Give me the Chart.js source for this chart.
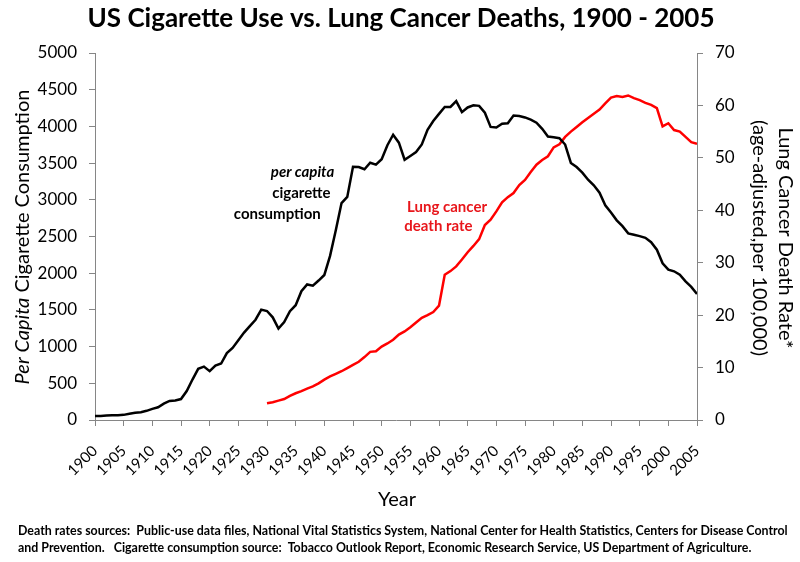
<!DOCTYPE html>
<html lang="en">
<head>
<meta charset="UTF-8">
<title>US Cigarette Use vs. Lung Cancer Deaths</title>
<script src="https://cdn.jsdelivr.net/npm/chart.js@4/dist/chart.umd.min.js"></script>
<style>
  body { margin: 0; background: #fff; }
  #wrap { width: 800px; height: 562px; }
</style>
</head>
<body>
<div id="wrap"><canvas id="chart" width="800" height="562"></canvas></div>
<script>
// years on the x axis
const years = [
  1900, 1901, 1902, 1903, 1904, 1905, 1906, 1907, 1908, 1909,
  1910, 1911, 1912, 1913, 1914, 1915, 1916, 1917, 1918, 1919,
  1920, 1921, 1922, 1923, 1924, 1925, 1926, 1927, 1928, 1929,
  1930, 1931, 1932, 1933, 1934, 1935, 1936, 1937, 1938, 1939,
  1940, 1941, 1942, 1943, 1944, 1945, 1946, 1947, 1948, 1949,
  1950, 1951, 1952, 1953, 1954, 1955, 1956, 1957, 1958, 1959,
  1960, 1961, 1962, 1963, 1964, 1965, 1966, 1967, 1968, 1969,
  1970, 1971, 1972, 1973, 1974, 1975, 1976, 1977, 1978, 1979,
  1980, 1981, 1982, 1983, 1984, 1985, 1986, 1987, 1988, 1989,
  1990, 1991, 1992, 1993, 1994, 1995, 1996, 1997, 1998, 1999,
  2000, 2001, 2002, 2003, 2004, 2005
];

// per capita cigarette consumption (left axis)
const consumption = [
  54, 53, 60, 64, 66, 70, 86, 99, 105, 125,
  151, 173, 223, 260, 267, 285, 395, 551, 697, 727,
  665, 742, 770, 911, 982, 1085, 1191, 1279, 1366, 1504,
  1485, 1399, 1245, 1334, 1483, 1564, 1754, 1847, 1830, 1900,
  1976, 2236, 2585, 2956, 3039, 3449, 3446, 3416, 3505, 3480,
  3552, 3744, 3886, 3778, 3546, 3597, 3650, 3755, 3953, 4073,
  4171, 4266, 4266, 4345, 4194, 4258, 4287, 4280, 4186, 3993,
  3985, 4037, 4043, 4148, 4141, 4122, 4092, 4051, 3967, 3861,
  3851, 3840, 3753, 3502, 3446, 3370, 3274, 3197, 3096, 2926,
  2826, 2720, 2641, 2543, 2524, 2505, 2482, 2423, 2320, 2136,
  2049, 2026, 1979, 1888, 1814, 1716
];

// lung cancer death rate per 100,000 (right axis), no data before 1930
const deathRate = [
  null, null, null, null, null, null, null, null, null, null,
  null, null, null, null, null, null, null, null, null, null,
  null, null, null, null, null, null, null, null, null, null,
  3.2, 3.4, 3.7, 4.0, 4.6, 5.1, 5.5, 6.0, 6.4, 7.0,
  7.7, 8.3, 8.8, 9.3, 9.9, 10.5, 11.1, 12.0, 13.0, 13.1,
  14.0, 14.6, 15.3, 16.3, 16.9, 17.7, 18.6, 19.5, 20.0, 20.6,
  21.8, 27.7, 28.4, 29.3, 30.6, 32.0, 33.2, 34.5, 37.2, 38.2,
  39.8, 41.5, 42.5, 43.3, 44.8, 45.8, 47.3, 48.7, 49.6, 50.3,
  52.0, 52.6, 54.0, 55.0, 55.9, 56.8, 57.6, 58.4, 59.2, 60.4,
  61.5, 61.8, 61.6, 61.9, 61.4, 61.0, 60.5, 60.1, 59.5, 56.0,
  56.6, 55.3, 55.0, 54.0, 53.0, 52.7
];

const FONT = 'Lato, "Open Sans", sans-serif';
const AXIS_GREY = '#868686';
const RED = 'rgb(255, 0, 0)';

const footnote = [
  'Death rates sources:  Public-use data files, National Vital Statistics System, National Center for Health Statistics, Centers for Disease Control',
  'and Prevention.   Cigarette consumption source:  Tobacco Outlook Report, Economic Research Service, US Department of Agriculture.'
];

// draws title, axis titles, in-chart labels and the source note
const textPlugin = {
  id: 'texts',
  afterDraw(chart) {
    const ctx = chart.ctx;
    const x = chart.scales.x, y = chart.scales.y;
    ctx.save();
    ctx.fillStyle = '#000';
    ctx.textBaseline = 'middle';

    // title
    ctx.textAlign = 'center';
    ctx.font = 'bold 26px ' + FONT;
    ctx.fillText('US Cigarette Use vs. Lung Cancer Deaths, 1900 - 2005', 401, 19);

    // x axis title
    ctx.font = '20px ' + FONT;
    ctx.fillText('Year', 397, 500);

    // left axis title, "Per Capita" in italics
    ctx.save();
    ctx.translate(23, 237);
    ctx.rotate(-Math.PI / 2);
    ctx.textAlign = 'left';
    const p1 = 'Per Capita', p2 = ' Cigarette Consumption';
    ctx.font = 'italic 20px ' + FONT;
    const w1 = ctx.measureText(p1).width;
    ctx.font = '20px ' + FONT;
    const w2 = ctx.measureText(p2).width;
    let sx = -(w1 + w2) / 2;
    ctx.font = 'italic 20px ' + FONT;
    ctx.fillText(p1, sx, 0);
    ctx.font = '20px ' + FONT;
    ctx.fillText(p2, sx + w1, 0);
    ctx.restore();

    // right axis title
    ctx.save();
    ctx.translate(772, 238);
    ctx.rotate(Math.PI / 2);
    ctx.textAlign = 'center';
    ctx.font = '20px ' + FONT;
    ctx.fillText('Lung Cancer Death Rate*', 0, -13);
    ctx.fillText('(age-adjusted,per 100,000)', 0, 13);
    ctx.restore();

    // label for the black line
    ctx.textAlign = 'center';
    ctx.font = 'italic bold 15px ' + FONT;
    ctx.fillText('per capita', x.getPixelForValue(1936.2), y.getPixelForValue(3370));
    ctx.font = 'bold 15px ' + FONT;
    ctx.fillText('cigarette', x.getPixelForValue(1936), y.getPixelForValue(3090));
    ctx.fillText('consumption', x.getPixelForValue(1931.8), y.getPixelForValue(2800));

    // label for the red line
    ctx.fillStyle = '#e8161b';
    ctx.fillText('Lung cancer', x.getPixelForValue(1961.4), y.getPixelForValue(2900));
    ctx.fillText('death rate', x.getPixelForValue(1959.9), y.getPixelForValue(2640));

    // source note
    ctx.fillStyle = '#000';
    ctx.textAlign = 'left';
    ctx.font = 'bold 12.4px ' + FONT;
    ctx.fillText(footnote[0], 18, 531);
    ctx.fillText(footnote[1], 18, 548);
    ctx.restore();
  }
};

const ctx = document.getElementById('chart').getContext('2d');

const chart = new Chart(ctx, {
  type: 'line',
  data: {
    labels: years,
    datasets: [
      {
        label: 'per capita cigarette consumption',
        data: consumption,
        yAxisID: 'y',
        borderColor: '#000',
        borderWidth: 2.5,
        pointRadius: 0,
        tension: 0,
        fill: false
      },
      {
        label: 'Lung cancer death rate',
        data: deathRate,
        yAxisID: 'y1',
        borderColor: RED,
        borderWidth: 2.5,
        pointRadius: 0,
        tension: 0,
        spanGaps: false,
        fill: false
      }
    ]
  },
  options: {
    responsive: false,
    animation: false,
    layout: { padding: { top: 53, left: 0, right: 0, bottom: 0 } },
    plugins: {
      legend: { display: false },
      title: { display: false },
      tooltip: { enabled: false }
    },
    scales: {
      x: {
        type: 'linear',
        position: 'bottom',
        min: 1900,
        max: 2005,
        afterFit: s => { s.height = 142; },
        border: { display: true, color: AXIS_GREY, width: 1 },
        grid: { display: true, drawOnChartArea: false, drawTicks: true, tickLength: 6, color: AXIS_GREY },
        ticks: {
          stepSize: 5,
          autoSkip: false,
          minRotation: 45,
          maxRotation: 45,
          padding: 16,
          color: '#000',
          font: { family: FONT, size: 15 },
          callback: v => String(v)
        }
      },
      y: {
        position: 'left',
        min: 0,
        max: 5000,
        afterFit: s => { s.width = 95; },
        border: { display: true, color: AXIS_GREY, width: 1 },
        grid: { display: true, drawOnChartArea: false, drawTicks: true, tickLength: 6, color: AXIS_GREY },
        ticks: {
          stepSize: 500,
          padding: 12,
          color: '#000',
          font: { family: FONT, size: 17 },
          callback: v => String(v)
        }
      },
      y1: {
        position: 'right',
        min: 0,
        max: 70,
        afterFit: s => { s.width = 103; },
        border: { display: true, color: AXIS_GREY, width: 1 },
        grid: { display: true, drawOnChartArea: false, drawTicks: true, tickLength: 6, color: AXIS_GREY },
        ticks: {
          stepSize: 10,
          padding: 12,
          color: '#000',
          font: { family: FONT, size: 17 },
          callback: v => String(v)
        }
      }
    }
  },
  plugins: [textPlugin]
});
</script>
</body>
</html>
